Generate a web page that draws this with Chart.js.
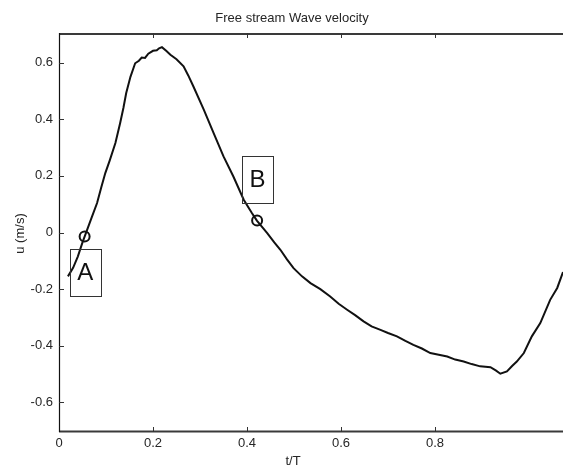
<!DOCTYPE html>
<html>
<head>
<meta charset="utf-8">
<script src="https://cdn.jsdelivr.net/npm/chart.js@4/dist/chart.umd.min.js"></script>
<style>
html,body{margin:0;padding:0;background:#fff;}
canvas{display:block;}
</style>
</head>
<body>
<canvas id="c" width="563" height="468"></canvas>
<script>
// ---- data ----
const tValues = [0.019,0.030,0.040,0.050,0.060,0.070,0.081,0.090,0.0985,0.108,0.120,0.130,0.137,0.143,0.152,0.162,0.170,0.176,0.183,0.190,0.200,0.208,0.213,0.219,0.228,0.237,0.250,0.265,0.275,0.286,0.308,0.329,0.350,0.371,0.393,0.410,0.421,0.443,0.458,0.471,0.485,0.499,0.517,0.535,0.556,0.577,0.595,0.613,0.630,0.648,0.665,0.684,0.700,0.719,0.737,0.754,0.772,0.790,0.808,0.826,0.843,0.861,0.878,0.896,0.918,0.930,0.939,0.953,0.964,0.974,0.989,1.006,1.024,1.045,1.060,1.0723];
const uValues = [-0.155,-0.125,-0.085,-0.035,0.010,0.055,0.104,0.160,0.210,0.255,0.316,0.386,0.440,0.493,0.550,0.598,0.607,0.618,0.617,0.632,0.642,0.644,0.651,0.655,0.642,0.628,0.612,0.587,0.555,0.516,0.434,0.351,0.269,0.198,0.116,0.070,0.042,-0.002,-0.035,-0.061,-0.095,-0.126,-0.155,-0.179,-0.200,-0.226,-0.252,-0.273,-0.292,-0.314,-0.332,-0.344,-0.355,-0.367,-0.383,-0.397,-0.410,-0.426,-0.432,-0.438,-0.449,-0.456,-0.465,-0.473,-0.476,-0.488,-0.499,-0.491,-0.472,-0.456,-0.426,-0.367,-0.320,-0.238,-0.196,-0.140];
const markerT = [0.0545, 0.4215];
const markerU = [-0.014, 0.042];
const labelTexts = ['A', 'B'];
const labelT = [0.0557, 0.4223];
const labelU = [-0.142, 0.188];
const xTicks = [0, 0.2, 0.4, 0.6, 0.8];
const yTicks = [-0.6, -0.4, -0.2, 0, 0.2, 0.4, 0.6];
const titleText = 'Free stream Wave velocity';
const xTitle = 't/T';
const yTitle = 'u (m/s)';

const FONT = "'Liberation Sans', Arial, Helvetica, sans-serif";
const TXT = '#262626';

const decor = {
  id: 'decor',
  afterDraw(chart) {
    const ctx = chart.ctx;
    const a = chart.chartArea;
    const xs = chart.scales.x, ys = chart.scales.y;
    ctx.save();
    // axes lines
    ctx.strokeStyle = '#3a3a3a';
    ctx.lineWidth = 2;
    ctx.beginPath();
    ctx.moveTo(a.left, a.top + 1); ctx.lineTo(a.right, a.top + 1);
    ctx.moveTo(a.left, a.bottom - 0.5); ctx.lineTo(a.right, a.bottom - 0.5);
    ctx.stroke();
    ctx.lineWidth = 1.2;
    ctx.strokeStyle = '#111';
    ctx.beginPath();
    ctx.moveTo(a.left + 0.5, a.top); ctx.lineTo(a.left + 0.5, a.bottom);
    ctx.stroke();
    // inward ticks
    ctx.lineWidth = 1;
    ctx.strokeStyle = '#333';
    ctx.beginPath();
    xTicks.forEach(v => {
      if (v === 0) return;
      const px = Math.round(xs.getPixelForValue(v)) + 0.5;
      ctx.moveTo(px, a.bottom); ctx.lineTo(px, a.bottom - 5);
      ctx.moveTo(px, a.top); ctx.lineTo(px, a.top + 5);
    });
    yTicks.forEach(v => {
      const py = Math.round(ys.getPixelForValue(v)) + 0.5;
      ctx.moveTo(a.left, py); ctx.lineTo(a.left + 5, py);
    });
    ctx.stroke();
    // titles
    ctx.fillStyle = TXT;
    ctx.font = '13px ' + FONT;
    ctx.textAlign = 'center';
    ctx.textBaseline = 'middle';
    const midX = xs.getPixelForValue(0.5);
    ctx.fillText(titleText, midX - 2, 18);
    ctx.fillText(xTitle, midX - 1, 461);
    ctx.save();
    ctx.translate(20, (a.top + a.bottom) / 2 + 1);
    ctx.rotate(-Math.PI / 2);
    ctx.fillText(yTitle, 0, 0);
    ctx.restore();
    // labelled boxes
    ctx.font = '24px ' + FONT;
    labelTexts.forEach((txt, i) => {
      const cx = xs.getPixelForValue(labelT[i]);
      const cy = ys.getPixelForValue(labelU[i]);
      const w = 31, h = 47;
      ctx.strokeStyle = '#333';
      ctx.lineWidth = 1;
      ctx.strokeRect(Math.round(cx - w / 2) + 0.5, Math.round(cy - h / 2) + 0.5, w, h);
      ctx.fillStyle = '#111';
      ctx.fillText(txt, cx, cy + 1);
    });
    ctx.restore();
  }
};

new Chart(document.getElementById('c'), {
  type: 'scatter',
  data: {
    datasets: [
      {
        data: tValues.map((t, i) => ({ x: t, y: uValues[i] })),
        showLine: true,
        borderColor: '#111',
        borderWidth: 2,
        pointRadius: 0,
        tension: 0,
        fill: false
      },
      {
        data: markerT.map((t, i) => ({ x: t, y: markerU[i] })),
        showLine: false,
        pointStyle: 'circle',
        pointRadius: 5,
        pointBorderWidth: 2,
        pointBorderColor: '#111',
        pointBackgroundColor: 'rgba(0,0,0,0)'
      }
    ]
  },
  options: {
    responsive: false,
    animation: false,
    devicePixelRatio: 1,
    layout: { autoPadding: false, padding: { top: 33, left: 0, right: 0, bottom: 0 } },
    plugins: { legend: { display: false }, tooltip: { enabled: false }, title: { display: false } },
    scales: {
      x: {
        type: 'linear',
        min: 0,
        max: 1.0723,
        afterBuildTicks: s => { s.ticks = xTicks.map(v => ({ value: v })); },
        afterFit: s => { s.height = 36; },
        grid: { display: false, drawTicks: false },
        border: { display: false },
        ticks: {
          padding: 4, color: TXT, font: { size: 13, family: FONT },
          maxRotation: 0, autoSkip: false,
          callback: v => String(v)
        }
      },
      y: {
        type: 'linear',
        min: -0.705,
        max: 0.705,
        afterBuildTicks: s => { s.ticks = yTicks.map(v => ({ value: v })); },
        afterFit: s => { s.width = 59; },
        grid: { display: false, drawTicks: false },
        border: { display: false },
        ticks: {
          padding: 6, color: TXT, font: { size: 13, family: FONT },
          autoSkip: false,
          callback: v => String(v)
        }
      }
    }
  },
  plugins: [decor]
});
</script>
</body>
</html>
